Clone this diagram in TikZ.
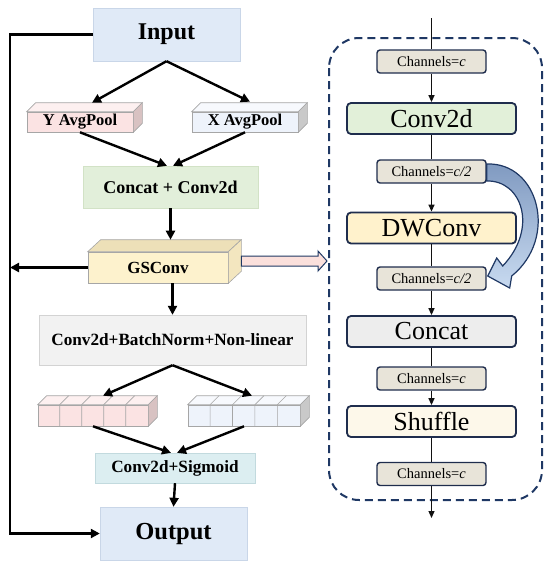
\documentclass[tikz,border=0pt]{standalone}
\usepackage{fontspec}
\setmainfont{Liberation Serif}
\usetikzlibrary{arrows.meta,calc}
\definecolor{navy}{HTML}{1F2D4D}
\definecolor{dashc}{HTML}{1F3864}
\definecolor{chfill}{HTML}{E8E4D9}
\definecolor{inpfill}{HTML}{E0EAF7}
\definecolor{inpdraw}{HTML}{C9D6E8}
\definecolor{pinkf}{HTML}{FBE3E3}
\definecolor{pinkt}{HTML}{FDF0F0}
\definecolor{pinks}{HTML}{D8C2C2}
\definecolor{bluef}{HTML}{EEF3FB}
\definecolor{bluet}{HTML}{F7F9FD}
\definecolor{blues}{HTML}{C9C9C9}
\definecolor{greenf}{HTML}{E2EFDA}
\definecolor{greend}{HTML}{D2E2C6}
\definecolor{gsf}{HTML}{FDF2CD}
\definecolor{gst}{HTML}{EDE0B8}
\definecolor{gss}{HTML}{F3E6BF}
\definecolor{cbnf}{HTML}{F2F2F2}
\definecolor{cbnd}{HTML}{D3D3D3}
\definecolor{sigf}{HTML}{DCEEF1}
\definecolor{sigd}{HTML}{C2DADE}
\definecolor{hollowf}{HTML}{FBE0DC}
\definecolor{convf}{HTML}{E2F0D9}
\definecolor{dwf}{HTML}{FFF2CC}
\definecolor{catf}{HTML}{EDEDED}
\definecolor{shf}{HTML}{FDF8EA}
\definecolor{curvetop}{HTML}{7F99C0}
\definecolor{curvebot}{HTML}{C8DAF0}
\definecolor{rline}{HTML}{111111}
\tikzset{
  lbox/.style={inner sep=0pt},
  fsz/.style={font=\fontsize{#1}{#1}\selectfont\bfseries},
  rsz/.style={font=\fontsize{#1}{#1}\selectfont},
  thickarr/.style={line width=2.4pt, -{Triangle[length=9pt,width=9pt]}},
  thinarr/.style={line width=1.3pt, rline, -{Triangle[length=7pt,width=6pt]}},
  thinline/.style={line width=1.3pt, rline},
  chbox/.style={draw=navy, line width=1.4pt, fill=chfill, rounded corners=3pt, minimum width=109pt, minimum height=23pt, inner sep=0pt, rsz=14.5},
  bigbox/.style={draw=navy, line width=1.8pt, rounded corners=4pt, minimum width=169pt, minimum height=31pt, inner sep=0pt, rsz=26},
  edge3/.style={draw=gray!70, line width=0.6pt},
}
\newcommand{\threedface}[5]{%
  \draw[edge3,fill=#4] (#1.north west) -- ++(#2,-#3) -- ($(#1.north east)+(#2,-#3)$) -- (#1.north east) -- cycle;
  \draw[edge3,fill=#5] (#1.north east) -- ++(#2,-#3) -- ($(#1.south east)+(#2,-#3)$) -- (#1.south east) -- cycle;}
\begin{document}
\begin{tikzpicture}[x=1pt,y=-1pt]
\useasboundingbox (0,0) rectangle (550,571);
% ---------------- left column ----------------
\node[lbox, fsz=24, fill=inpfill, draw=inpdraw, minimum width=147pt, minimum height=53pt] (input) at (166.5,34.5) {Input};
\node[lbox, fsz=16.5, fill=pinkf, edge3, minimum width=106pt, minimum height=20pt] (ypool) at (80,122) {Y AvgPool};
\threedface{ypool}{9}{9}{pinkt}{pinks}
\node[lbox, fsz=16.5, fill=bluef, edge3, minimum width=106pt, minimum height=20pt] (xpool) at (245,122) {X AvgPool};
\threedface{xpool}{9}{9}{bluet}{blues}
\node[lbox, fsz=18, fill=greenf, draw=greend, minimum width=175pt, minimum height=42pt] (concat) at (170.5,187) {Concat + Conv2d};
\node[lbox, fsz=17, fill=gsf, edge3, minimum width=140pt, minimum height=31pt] (gs) at (158,267.5) {GSConv};
\threedface{gs}{13}{12}{gst}{gss}
\node[lbox, fsz=17.2, fill=cbnf, draw=cbnd, minimum width=267pt, minimum height=50pt] (cbn) at (172.5,340) {Conv2d+BatchNorm+Non-linear};
% cube rows
\node[edge3, fill=pinkf, minimum width=110pt, minimum height=21pt, inner sep=0pt] (prow) at (93,415.5) {};
\threedface{prow}{9}{9}{pinkt}{pinks}
\foreach \i in {1,...,4} {
  \draw[edge3] ($(prow.south west)+(22*\i,0)$) -- ($(prow.north west)+(22*\i,0)$) -- ++(9,-9);
}
\node[edge3, fill=bluef, minimum width=112pt, minimum height=21pt, inner sep=0pt] (brow) at (244,415.5) {};
\threedface{brow}{9}{9}{bluet}{blues}
\foreach \i in {1,...,4} {
  \draw[edge3] ($(brow.south west)+(22.4*\i,0)$) -- ($(brow.north west)+(22.4*\i,0)$) -- ++(9,-9);
}
\node[lbox, fsz=17.2, fill=sigf, draw=sigd, minimum width=160pt, minimum height=30pt] (sig) at (175,468) {Conv2d+Sigmoid};
\node[lbox, fsz=24.5, fill=inpfill, draw=inpdraw, minimum width=147pt, minimum height=53pt] (output) at (173.5,533.5) {Output};
% left arrows
\draw[thickarr] (input.south) -- ($(ypool.north)+(12,-9)$);
\draw[thickarr] (input.south) -- ($(xpool.north)+(5,-10)$);
\draw[thickarr] (ypool.south) -- ($(concat.north)+(-3.5,0)$);
\draw[thickarr] (xpool.south) -- ($(concat.north)+(2.5,0)$);
\draw[thickarr] (concat.south) -- ($(gs.north)+(12.5,-12)$);
\draw[thickarr] (gs.south -| cbn.north) -- (cbn.north);
\draw[thickarr] (cbn.south) -- ($(prow.north)+(10,-9)$);
\draw[thickarr] (cbn.south) -- ($(brow.north)+(8,-9)$);
\draw[thickarr] (prow.south) -- ($(sig.north)+(-4,0)$);
\draw[thickarr] (brow.south) -- ($(sig.north)+(2,0)$);
\draw[thickarr] (sig.south) -- (output.north);
\coordinate (ltop) at (10,34.5);
\draw[thickarr] (input.west) -- (ltop) |- (output.west);
\draw[thickarr] (gs.west) -- (gs.west -| ltop);
% hollow arrow
\coordinate (hs) at ($(gs.east)+(13,-6.5)$);
\coordinate (he) at (327,261);
\draw[draw=dashc, line width=1pt, fill=hollowf, line join=miter]
  ($(hs)+(0,-5)$) -- ($(he)+(-9,-5)$) -- ($(he)+(-9,-10)$) -- (he) -- ($(he)+(-9,10)$) -- ($(he)+(-9,5)$) -- ($(hs)+(0,5)$) -- cycle;
% ---------------- right panel ----------------
\draw[dashc, line width=2pt, dash pattern=on 8pt off 5pt, rounded corners=30pt] (329,38) rectangle (542,500);
\node[chbox] (ch1) at (431.5,61.5) {Channels=\textit{c}};
\node[bigbox, fill=convf] (conv) at (431.5,118.5) {Conv2d};
\node[chbox] (ch2) at (431.5,171.5) {Channels=\textit{c/2}};
\node[bigbox, fill=dwf] (dw) at (431.5,228) {DWConv};
\node[chbox] (ch3) at (431.5,278.5) {Channels=\textit{c/2}};
\node[bigbox, fill=catf] (cat) at (431.5,331.5) {Concat};
\node[chbox] (ch4) at (431.5,378.5) {Channels=\textit{c}};
\node[bigbox, fill=shf] (sh) at (431.5,421.5) {Shuffle};
\node[chbox] (ch5) at (431.5,474) {Channels=\textit{c}};
\coordinate (rtop) at (431.5,18);
\coordinate (rbot) at (431.5,518);
\draw[thinline] (rtop) -- (ch1.north);
\draw[thinarr] (ch1.south) -- (conv.north);
\draw[thinline] (conv.south) -- (ch2.north);
\draw[thinarr] (ch2.south) -- (dw.north);
\draw[thinline] (dw.south) -- (ch3.north);
\draw[thinarr] (ch3.south) -- (cat.north);
\draw[thinline] (cat.south) -- (ch4.north);
\draw[thinarr] (ch4.south) -- (sh.north);
\draw[thinline] (sh.south) -- (ch5.north);
\draw[thinarr] (ch5.south) -- (rbot);
% curved block arrow
\coordinate (cs) at (ch2.east);
\coordinate (ce) at (ch3.east);
\draw[draw=dashc, line width=1.2pt, top color=curvetop, bottom color=curvebot, line join=miter]
  ($(cs)+(0,-7.5)$) .. controls ($(cs)+(52,-9.5)$) and ($(ce)+(72,-40.5)$) .. ($(ce)+(25,-2.5)$)
  -- ($(ce)+(23,9.5)$) -- ($(ce)+(1,-2.5)$) -- ($(ce)+(10,-20.5)$) -- ($(ce)+(16,-12.5)$)
  .. controls ($(ce)+(52,-50.5)$) and ($(cs)+(35,8.5)$) .. ($(cs)+(0,9.5)$) -- cycle;
\end{tikzpicture}
\end{document}
